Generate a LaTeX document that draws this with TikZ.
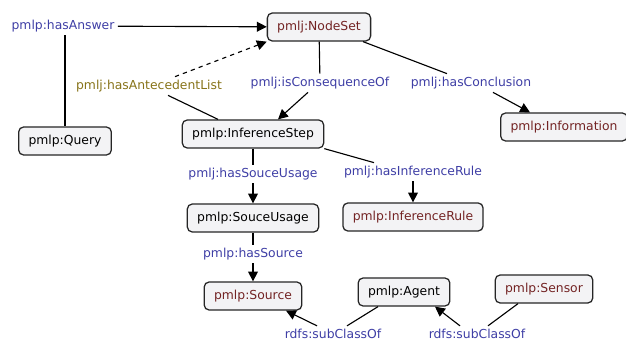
\documentclass[tikz,border=0pt]{standalone}
\usepackage{fontspec}
\setmainfont{DejaVu Sans}
\usetikzlibrary{arrows.meta,calc}
\definecolor{propblue}{RGB}{62,62,165}
\definecolor{propolive}{RGB}{135,115,25}
\definecolor{clsred}{RGB}{115,35,35}
\definecolor{clsfill}{RGB}{243,243,245}
\begin{document}
\begin{tikzpicture}[x=0.025cm, y=-0.025cm, line width=0.8pt,
    cls/.style={draw=black!85, line width=0.9pt, rounded corners=3.5pt, fill=clsfill,
      minimum height=0.7cm, inner xsep=7pt, font=\fontsize{8.8}{10.5}\selectfont},
    prop/.style={text=propblue, inner sep=2pt, font=\fontsize{8.8}{10.5}\selectfont},
    arr/.style={-{Triangle[length=7pt,width=7pt]}}]
    \useasboundingbox (0,0) rectangle (626,342);

    % クラス
    \node[cls, text=clsred] (ns) at (319, 27) {pmlj:NodeSet};
    \node[cls] (q) at (65, 141) {pmlp:Query};
    \node[cls] (is) at (253, 134) {pmlp:InferenceStep};
    \node[cls, text=clsred] (info) at (564, 127) {pmlp:Information};
    \node[cls] (su) at (253, 218) {pmlp:SouceUsage};
    \node[cls, text=clsred] (ir) at (413, 217) {pmlp:InferenceRule};
    \node[cls, text=clsred] (src) at (253, 296) {pmlp:Source};
    \node[cls] (ag) at (404, 292) {pmlp:Agent};
    \node[cls, text=clsred] (sen) at (544, 289) {pmlp:Sensor};

    % プロパティ
    \node[prop] (ans) at (63, 26) {pmlp:hasAnswer};
    \node[prop, text=propolive] (ant) at (149, 86) {pmlj:hasAntecedentList};
    \node[prop] (iso) at (320, 83) {pmlj:isConsequenceOf};
    \node[prop] (hc) at (471, 83) {pmlj:hasConclusion};
    \node[prop] (hsu) at (253, 174) {pmlj:hasSouceUsage};
    \node[prop] (hir) at (413, 172) {pmlj:hasInferenceRule};
    \node[prop] (hs) at (253, 254) {pmlp:hasSource};
    \node[prop] (sc1) at (333, 334) {rdfs:subClassOf};
    \node[prop] (sc2) at (477, 334) {rdfs:subClassOf};

    % エッジ
    \draw[arr] (ans) -- (ns);
    \draw (ans.south -| q.north) -- (q.north);
    \draw[arr, dashed] ($(ant.north)+(26,0)$) -- (ns.south west);
    \draw ($(ant.south)+(19,0)$) -- ($(is.north)+(-35,0)$);
    \draw (ns) -- (iso);
    \draw[arr] ($(iso.south)+(-12,0)$) -- ($(is.north)+(25,0)$);
    \draw ($(ns.south)+(44,0)$) -- ($(hc.north)+(-24,0)$);
    \draw[arr] ($(hc.south)+(22,0)$) -- ($(info.north)+(-34,0)$);
    \draw (is) -- (hsu);
    \draw[arr] (hsu) -- (su);
    \draw (is.south east) -- ($(hir.north)+(-39,0)$);
    \draw[arr] (hir) -- (ir);
    \draw (su) -- (hs);
    \draw[arr] (hs) -- (src);
    \draw ($(ag.south)+(-26,0)$) -- ($(sc1.north)+(14,0)$);
    \draw[arr] ($(sc1.north)+(-16,0)$) -- ($(src.south)+(33,0)$);
    \draw ($(sen.south)+(-26,0)$) -- ($(sc2.north)+(11,0)$);
    \draw[arr] ($(sc2.north)+(-17,0)$) -- ($(ag.south)+(31,0)$);
\end{tikzpicture}
\end{document}
